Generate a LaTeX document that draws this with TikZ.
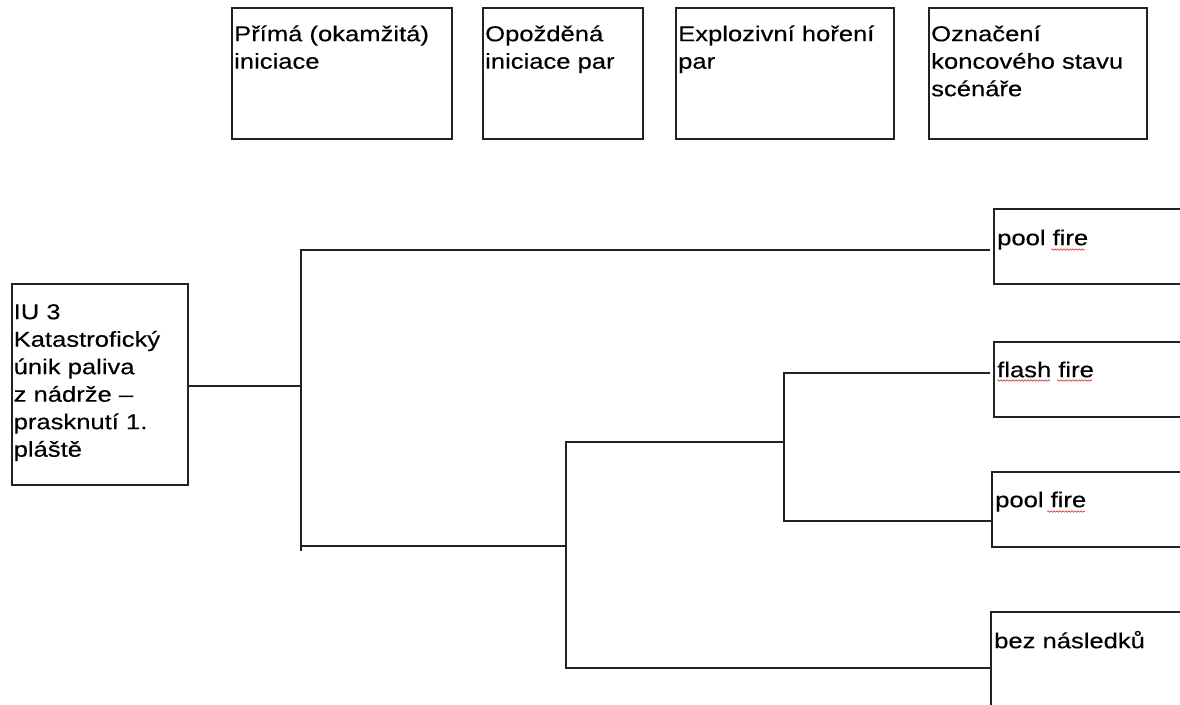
\documentclass[tikz,border=0pt]{standalone}
\usepackage{fontspec}
\setmainfont[FakeStretch=1.19,FakeBold=0.35]{Liberation Sans}
\usetikzlibrary{decorations.pathmorphing}
\definecolor{ink}{HTML}{222222}
\definecolor{spell}{HTML}{D02020}
\tikzset{
  box/.style={draw=ink, line width=1.6pt, inner sep=0pt, outer sep=0pt, fill=none},
  txt/.style={anchor=north west, inner sep=0pt, align=left, text=black,
    font={\fontsize{21.5}{27.5}\selectfont}},
  conn/.style={draw=ink, line width=1.7pt, line cap=rect},
  squig/.style={draw=spell, line width=0.5pt,
    decorate, decoration={snake, amplitude=0.8pt, segment length=3pt}}
}
\newcommand{\fl}{\rule{0pt}{22pt}}
\begin{document}
\begin{tikzpicture}[x=1pt,y=-1pt]
\useasboundingbox (0,0) rectangle (1180,704);
% top header boxes
\node[box, minimum width=220pt, minimum height=131pt] (t1) at (342,73.5) {};
\node[box, minimum width=160pt, minimum height=131pt] (t2) at (563,73.5) {};
\node[box, minimum width=218pt, minimum height=131pt] (t3) at (785,73.5) {};
\node[box, minimum width=218pt, minimum height=131pt] (t4) at (1038,73.5) {};
\node[txt] (t1x) at ([shift={(2,11)}]t1.north west) {\fl Přímá (okamžitá)\\iniciace};
\node[txt] (t2x) at ([shift={(2,11)}]t2.north west) {\fl Opožděná\\iniciace par};
\node[txt] (t3x) at ([shift={(2,11)}]t3.north west) {\fl Explozivní hoření\\par};
\node[txt] (t4x) at ([shift={(2,11)}]t4.north west) {\fl Označení\\koncového stavu\\scénáře};
% initiating event
\node[box, minimum width=176pt, minimum height=201pt] (L) at (100,384.5) {};
\node[txt] (Lx) at ([shift={(1.5,13)}]L.north west) {\fl IU 3\\Katastrofický\\únik paliva\\z nádrže --\\prasknutí 1.\\pláště};
% end states
\node[box, minimum width=190pt, minimum height=75pt] (R1) at (1089,246.5) {};
\node[box, minimum width=190pt, minimum height=75pt] (R2) at (1089,379.5) {};
\node[box, minimum width=192pt, minimum height=75pt] (R3) at (1088,509.5) {};
\node[box, minimum width=193pt, minimum height=100pt] (R4) at (1087.5,662) {};
\node[txt] (R1x) at ([shift={(3,14)}]R1.north west) {\fl pool fire};
\node[txt] (R2x) at ([shift={(3,13)}]R2.north west) {\fl flash fire};
\node[txt] (R3x) at ([shift={(3,13)}]R3.north west) {\fl pool fire};
\node[txt] (R4x) at ([shift={(3,14)}]R4.north west) {\fl bez následků};
% spell-check marks
\draw[squig] (1051,249.5) -- (1085,249.5);
\draw[squig] (997,380.5) -- (1050,380.5);
\draw[squig] (1057,380.5) -- (1092,380.5);
\draw[squig] (1047,511.5) -- (1085,511.5);
% junction coordinates
\coordinate (j0) at (188,386);
\coordinate (v1top) at (301,250);
\coordinate (v1bot) at (301,550);
\coordinate (c1) at (301,546);
\coordinate (v2top) at (566,442);
\coordinate (v2bot) at (566,668);
\coordinate (v3top) at (784,373);
\coordinate (v3bot) at (784,521);
\coordinate (e1) at ([xshift=-5pt]R1.west);
\coordinate (e2) at ([xshift=-5pt]R2.west);
\coordinate (e3) at ([xshift=-2pt]R3.west);
\coordinate (e4) at ([xshift=-2pt]R4.west);
% connectors
\draw[conn] (L.east |- j0) -- (j0 -| v1top);
\draw[conn] (v1top) -- (v1bot);
\draw[conn] (v1top) -- (v1top -| e1);
\draw[conn] (c1) -- (c1 -| v2top);
\draw[conn] (v2top) -- (v2bot);
\draw[conn] (v2top) -- (v2top -| v3top);
\draw[conn] (v3top) -- (v3bot);
\draw[conn] (v3top) -- (v3top -| e2);
\draw[conn] (v3bot) -- (v3bot -| e3);
\draw[conn] (v2bot) -- (v2bot -| e4);
\end{tikzpicture}
\end{document}
